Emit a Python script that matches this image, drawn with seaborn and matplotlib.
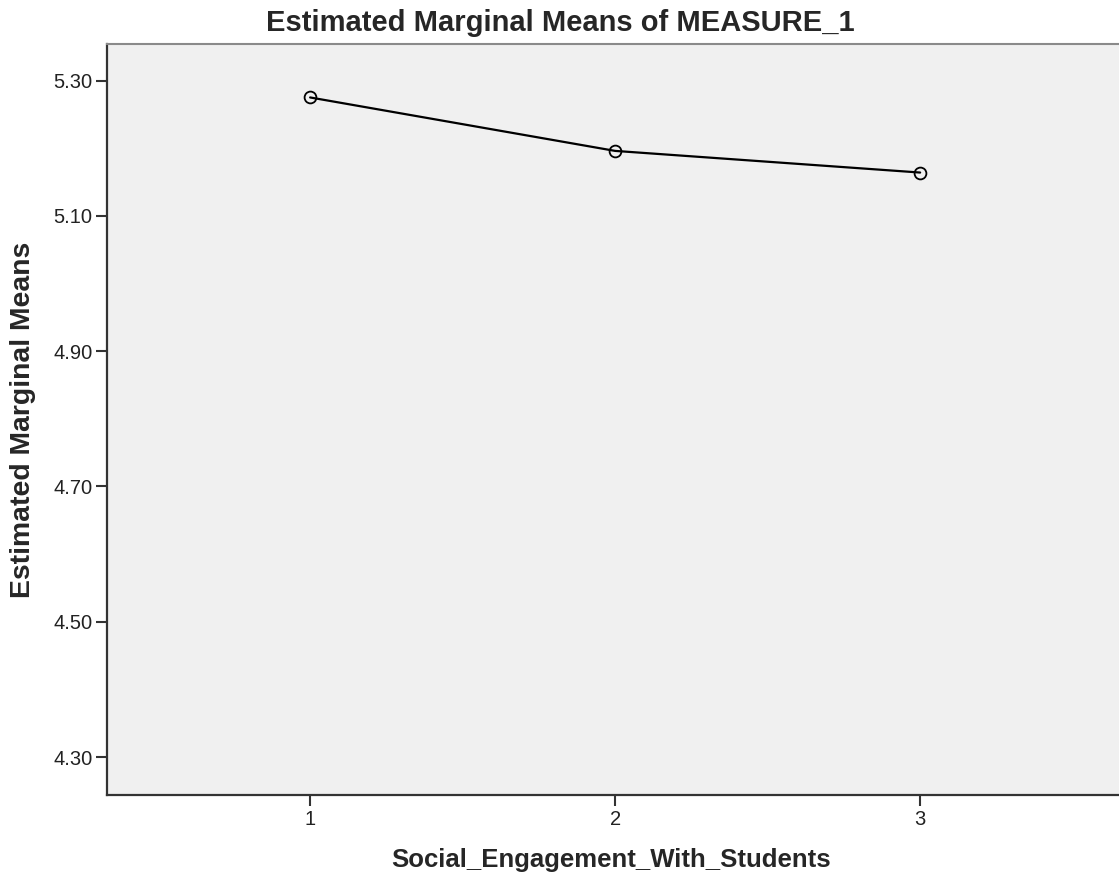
import matplotlib

matplotlib.use("Agg")
import matplotlib.pyplot as plt
import pandas as pd
import seaborn as sns

# estimated marginal means
levels = [1, 2, 3]
means = [5.275, 5.196, 5.164]
y_ticks = [4.30, 4.50, 4.70, 4.90, 5.10, 5.30]

title = "Estimated Marginal Means of MEASURE_1"
x_label = "Social_Engagement_With_Students"
y_label = "Estimated Marginal Means"

df = pd.DataFrame({"level": levels, "mean": means})

sns.set_style("white")
plt.rcParams["font.family"] = ["Liberation Sans", "DejaVu Sans"]

fig = plt.figure(figsize=(11.19, 8.85), dpi=100)
ax = fig.add_axes([107 / 1119, 90 / 885, 1 - 107 / 1119, 751 / 885])
ax.set_facecolor("#f0f0f0")

sns.lineplot(
    data=df,
    x="level",
    y="mean",
    color="black",
    linewidth=1.6,
    marker="o",
    markersize=8.5,
    markerfacecolor="none",
    markeredgecolor="black",
    markeredgewidth=1.3,
    ax=ax,
)

ax.set_xlim(0.334, 3.652)
ax.set_ylim(4.244, 5.354)
ax.set_xticks(levels)
ax.set_xticklabels([str(v) for v in levels])
ax.set_yticks(y_ticks)
ax.set_yticklabels([f"{v:.2f}" for v in y_ticks])
ax.tick_params(axis="both", bottom=True, left=True, direction="out",
               length=8, width=1.5, color="#333333", labelsize=14.5,
               labelcolor="#222222", pad=2.5)

for side in ["left", "bottom"]:
    ax.spines[side].set_color("#333333")
    ax.spines[side].set_linewidth(1.6)
ax.spines["top"].set_color("#8a8a8a")
ax.spines["top"].set_linewidth(1.5)
ax.spines["right"].set_visible(False)

ax.set_xlabel("")
ax.set_ylabel("")
fig.text(560 / 1119, 1 - 31 / 885, title, ha="center", va="baseline",
         fontsize=21, fontweight="bold")
fig.text(611 / 1119, 1 - 860 / 885, x_label, ha="center", va="center",
         fontsize=18.5, fontweight="bold")
fig.text(23 / 1119, 1 - 420 / 885, y_label, ha="center", va="center",
         rotation=90, fontsize=20.4, fontweight="bold")

fig.savefig("out.png", dpi=100)
